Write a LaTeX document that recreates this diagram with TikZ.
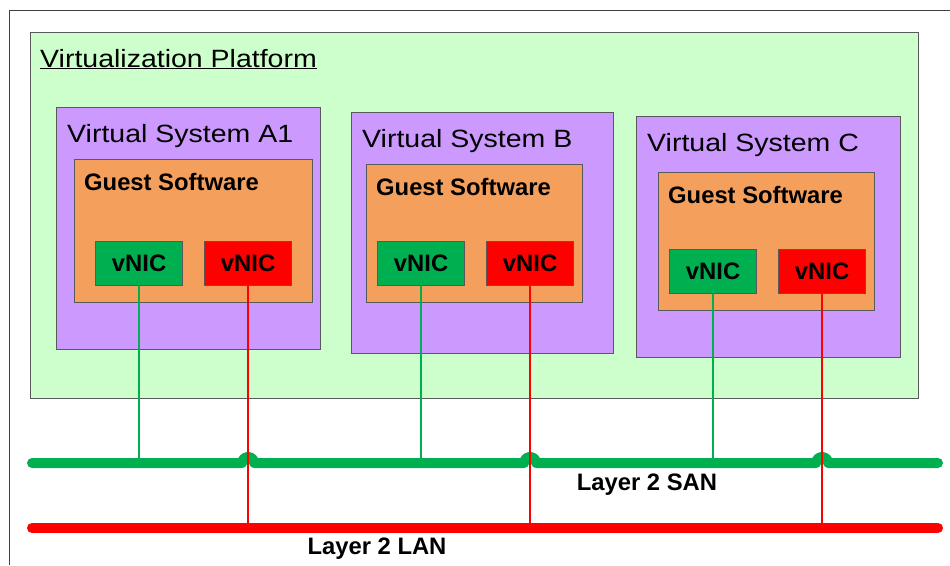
\documentclass[tikz,border=0pt]{standalone}
\usepackage{graphicx}
\usepackage{fontspec}
\setmainfont{Liberation Sans}
\definecolor{platgreen}{RGB}{204,255,204}
\definecolor{vspurple}{RGB}{204,153,255}
\definecolor{gsorange}{RGB}{244,160,92}
\definecolor{nicgreen}{RGB}{0,176,80}
\definecolor{nicred}{RGB}{255,0,0}
\newcommand\widetext[1]{\scalebox{1.14}[1]{#1}}

\begin{document}
\begin{tikzpicture}[x=1pt,y=-1pt,
	box/.style={draw=black!65,line width=1.2pt,anchor=north west,inner sep=0pt},
	big/.style={font=\fontsize{25}{30}\selectfont,anchor=base west,inner sep=0pt},
	bold/.style={font=\fontsize{23.8}{28}\selectfont\bfseries},
	nic/.style={box,minimum width=87,minimum height=44,bold},
	bus/.style={line width=10pt,line cap=round,line join=round},
	link/.style={line width=1.8pt}]
	\useasboundingbox (0,0) rectangle (950,565);
	\draw[black!75,line width=1pt] (9,565) -- (9,10) -- (950,10);
	
	\node[box,fill=platgreen,minimum width=888,minimum height=366] (plat) at (30,32) {};
	\node[big] at ([shift={(10,35)}]plat.north west) {\widetext{\underline{Virtualization Platform}}};
	
	% name/title/x/y/w/h/guest x/y/w/h/vNIC x/y
	\foreach \n/\t/\x/\y/\w/\h/\gx/\gy/\gw/\gh/\nx/\ny in
	{a/A1/56/107/264/242/74/159/238/143/95/241,
	 b/B/351/112/262/241/366/164/216/138/377/241,
	 c/C/636/116/264/241/658/172/216/138/669/249}{
		\node[box,fill=vspurple,minimum width=\w,minimum height=\h] (\n) at (\x,\y) {};
		\node[big] at ([shift={(11,35)}]\n.north west) {\widetext{Virtual System \t}};
		\node[box,fill=gsorange,minimum width=\gw,minimum height=\gh] (\n-gs) at (\gx,\gy) {};
		\node[bold,anchor=base west,inner sep=0pt] at ([shift={(10,31)}]\n-gs.north west) {Guest Software};
		\node[nic,fill=nicgreen] (\n-san) at (\nx,\ny) {vNIC};
		\node[nic,fill=nicred] (\n-lan) at (\nx+109,\ny) {vNIC};
	}
	
	\coordinate (san) at (32,463);
	\coordinate (lan) at (32,528);
	
	\foreach \n in {a,b,c}{
		\draw[link,nicgreen] (\n-san.south) -- (\n-san.south |- san);
	}
	
	% SAN with hops over the LAN links
	\draw[bus,nicgreen] (san) -- ([xshift=-6pt]a-lan.south |- san)
		arc[start angle=180,end angle=360,radius=6] -- ([xshift=-6pt]b-lan.south |- san)
		arc[start angle=180,end angle=360,radius=6] -- ([xshift=-6pt]c-lan.south |- san)
		arc[start angle=180,end angle=360,radius=6] -- (938,463);
	\draw[bus,nicred] (lan) -- (938,528);
	
	\foreach \n in {a,b,c}{
		\draw[link,nicred] (\n-lan.south) -- (\n-lan.south |- lan);
	}
	
	\node[bold] (san label) at (647,485) {Layer 2 SAN};
	\node[bold] (lan label) at (377,549) {Layer 2 LAN};
\end{tikzpicture}
\end{document}
